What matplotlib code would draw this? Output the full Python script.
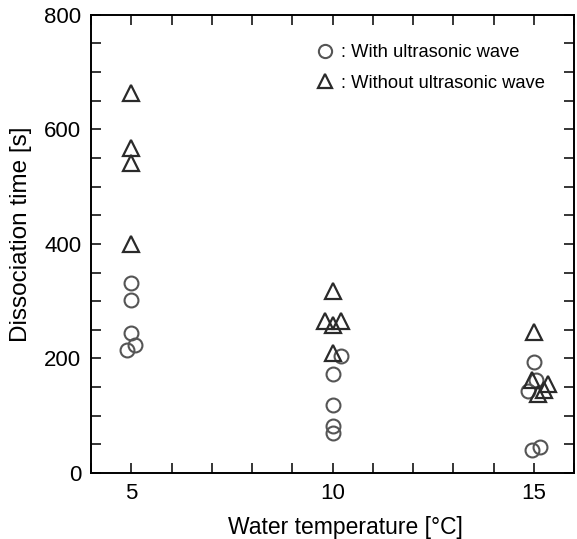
import numpy as np
import matplotlib.pyplot as plt
from matplotlib.ticker import MultipleLocator

plt.rcParams['font.family'] = ['Liberation Sans', 'DejaVu Sans']

# Данные: температура воды и время диссоциации
with_x = [4.88, 5.1, 5.0, 5.0, 5.0,
          10.0, 10.0, 10.0, 10.0, 10.2,
          14.85, 15.05, 15.0, 14.95, 15.15]
with_y = [215, 223, 245, 302, 332,
          70, 82, 118, 172, 205,
          143, 162, 193, 40, 46]

without_x = [5.0, 5.0, 5.0, 5.0,
             10.0, 9.8, 10.0, 10.2, 10.0,
             15.0, 14.95, 15.35, 15.25, 15.1]
without_y = [664, 568, 541, 400,
             318, 266, 258, 266, 210,
             246, 163, 155, 145, 138]

fig = plt.figure(figsize=(5.77, 5.39), dpi=100)
ax = fig.add_axes([0.158, 0.1225, 0.837, 0.85])

ax.plot(with_x, with_y, 'o', ms=10, mfc='none', mec='#555555', mew=1.5,
        label=': With ultrasonic wave')
ax.plot(without_x, without_y, '^', ms=11, mfc='none', mec='#2a2a2a', mew=1.6,
        label=': Without ultrasonic wave')

ax.set_xlim(4, 16)
ax.set_ylim(0, 800)
ax.set_xticks([5, 10, 15])
ax.xaxis.set_minor_locator(MultipleLocator(1))
ax.yaxis.set_major_locator(MultipleLocator(200))
ax.yaxis.set_minor_locator(MultipleLocator(50))
ax.tick_params(which='both', direction='in', top=True, right=True,
               length=7, width=1.1, labelsize=16, pad=7)
for s in ax.spines.values():
    s.set_linewidth(1.4)

ax.set_xlabel('Water temperature [°C]', fontsize=16.5)
ax.set_ylabel('Dissociation time [s]', fontsize=17.5)
ax.xaxis.set_label_coords(0.526, -0.095)
ax.yaxis.set_label_coords(-0.122, 0.52)

ax.legend(loc='upper right', frameon=False, fontsize=13.2, handletextpad=0.15,
          labelspacing=0.75, borderaxespad=1.0, borderpad=0.6, markerscale=0.95,
          handlelength=1.4)

plt.savefig('out.png', dpi=100)
